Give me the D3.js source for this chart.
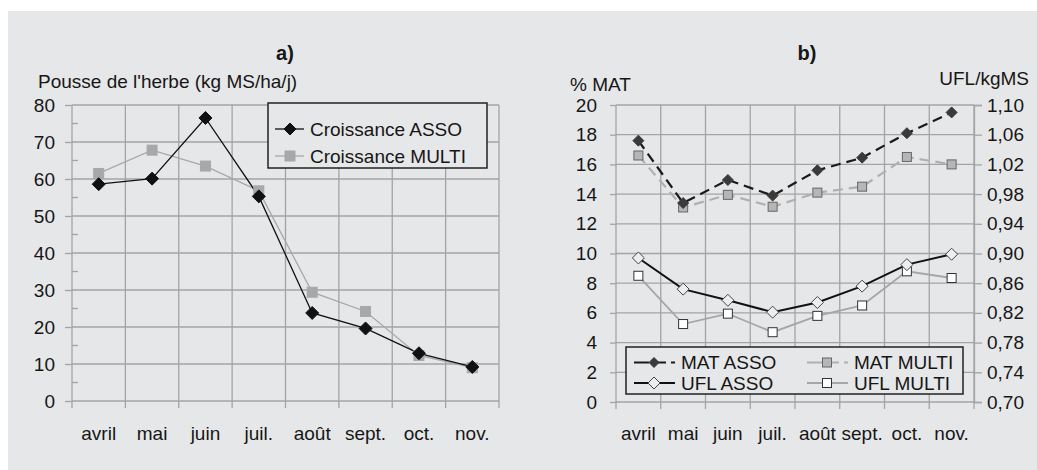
<!DOCTYPE html>
<html>
<head>
<meta charset="utf-8">
<script src="https://cdn.jsdelivr.net/npm/d3@7"></script>
<style>
  body { margin: 0; background: #fff; }
  text { font-family: "Liberation Sans", Arial, sans-serif; fill: #161616; }
</style>
</head>
<body>
<div id="chart"></div>
<script>
const months = ["avril", "mai", "juin", "juil.", "août", "sept.", "oct.", "nov."];

// a) pousse de l'herbe
const croissAsso = [58.6, 60.1, 76.5, 55.3, 23.8, 19.6, 12.9, 9.2];
const croissMulti = [61.5, 67.8, 63.5, 56.8, 29.4, 24.2, 12.3, 9.0];
const ticksA = [0, 10, 20, 30, 40, 50, 60, 70, 80];

// b) MAT (left axis) and UFL (right axis)
const matAsso = [17.6, 13.4, 14.95, 13.9, 15.6, 16.45, 18.1, 19.5];
const matMulti = [16.6, 13.1, 13.95, 13.15, 14.1, 14.5, 16.5, 16.0];
const uflAsso = [0.894, 0.852, 0.837, 0.821, 0.834, 0.856, 0.885, 0.899];
const uflMulti = [0.870, 0.805, 0.819, 0.794, 0.816, 0.830, 0.876, 0.867];
const ticksMat = [0, 2, 4, 6, 8, 10, 12, 14, 16, 18, 20];
const ticksUfl = [0.70, 0.74, 0.78, 0.82, 0.86, 0.90, 0.94, 0.98, 1.02, 1.06, 1.10];

const W = 1037, H = 470;
const PANEL = "#e6e7e9";
const GRID = "#a4a4a4";
const FONT = 19;

const svg = d3.select("#chart").append("svg").attr("width", W).attr("height", H);
svg.append("rect").attr("x", 8).attr("y", 11).attr("width", W - 8).attr("height", H - 11).attr("fill", PANEL);

const comma = v => d3.format(".2f")(v).replace(".", ",");

function diamond(g, x, y, r, fill, stroke) {
  g.append("path")
    .attr("d", `M${x},${y - r}L${x + r},${y}L${x},${y + r}L${x - r},${y}Z`)
    .attr("fill", fill).attr("stroke", stroke).attr("stroke-width", 1);
}
function square(g, x, y, s, fill, stroke) {
  g.append("rect").attr("x", x - s / 2).attr("y", y - s / 2).attr("width", s).attr("height", s)
    .attr("fill", fill).attr("stroke", stroke).attr("stroke-width", 1);
}

// grid + left axis + month labels
function frame(g, x, y, ticks, left, right, top, bottom, tickLen, pad) {
  // horizontal gridlines
  g.append("g").selectAll("line").data(ticks).join("line")
    .attr("x1", left).attr("x2", right)
    .attr("y1", d => y(d)).attr("y2", d => y(d))
    .attr("stroke", GRID).attr("stroke-width", 1.3);
  // vertical gridlines at band edges, running past the x axis as ticks
  const edges = months.map(m => x(m) + x.bandwidth());
  edges.unshift(left);
  g.append("g").selectAll("line").data(edges).join("line")
    .attr("x1", d => d).attr("x2", d => d)
    .attr("y1", top).attr("y2", bottom + 7)
    .attr("stroke", GRID).attr("stroke-width", 1.3);
  const ax = g.append("g").attr("transform", `translate(${left},0)`)
    .call(d3.axisLeft(y).tickValues(ticks).tickFormat(d => d).tickSize(tickLen).tickPadding(pad));
  ax.select(".domain").remove();
  ax.selectAll(".tick line").attr("stroke", GRID).attr("stroke-width", 1.3);
  ax.selectAll(".tick text").attr("font-size", FONT).attr("font-family", null).attr("fill", "#161616");
  g.append("g").selectAll("text").data(months).join("text")
    .attr("x", d => x(d) + x.bandwidth() / 2).attr("y", 440)
    .attr("text-anchor", "middle").attr("font-size", FONT).text(d => d);
}

function series(g, x, y, vals, color, width, dash) {
  g.append("path").datum(vals)
    .attr("d", d3.line().x((d, i) => x(months[i]) + x.bandwidth() / 2).y(d => y(d)))
    .attr("fill", "none").attr("stroke", color).attr("stroke-width", width)
    .attr("stroke-dasharray", dash || null);
}

// ---------- chart a ----------
const ga = svg.append("g");
const xa = d3.scaleBand().domain(months).range([72, 499]);
const ya = d3.scaleLinear().domain([0, 80]).range([401, 105]);
frame(ga, xa, ya, ticksA, 72, 499, 105, 401, 7, 10);

// minor ticks every 5
ga.append("g").selectAll("line").data(d3.range(5, 80, 10)).join("line")
  .attr("x1", 72).attr("x2", 78).attr("y1", d => ya(d)).attr("y2", d => ya(d))
  .attr("stroke", GRID).attr("stroke-width", 1.3);

ga.append("text").attr("x", 285).attr("y", 60).attr("text-anchor", "middle")
  .attr("font-size", 20).attr("font-weight", "bold").text("a)");
ga.append("text").attr("x", 38).attr("y", 88).attr("font-size", FONT).text("Pousse de l'herbe (kg MS/ha/j)");

series(ga, xa, ya, croissMulti, "#a8a8a8", 1.3);
series(ga, xa, ya, croissAsso, "#111", 1.3);
croissMulti.forEach((v, i) => square(ga, xa(months[i]) + xa.bandwidth() / 2, ya(v), 10, "#a8a8a8", "#a8a8a8"));
croissAsso.forEach((v, i) => diamond(ga, xa(months[i]) + xa.bandwidth() / 2, ya(v), 6.5, "#111", "#111"));

// legend a
const la = ga.append("g");
la.append("rect").attr("x", 268).attr("y", 103).attr("width", 219).attr("height", 65)
  .attr("fill", PANEL).attr("stroke", "#222").attr("stroke-width", 1.5);
[["Croissance ASSO", "#111", 129], ["Croissance MULTI", "#a8a8a8", 156]].forEach(([name, c, yy], i) => {
  la.append("line").attr("x1", 275).attr("x2", 304).attr("y1", yy).attr("y2", yy).attr("stroke", c).attr("stroke-width", 1.3);
  if (i === 0) diamond(la, 290, yy, 6, c, c); else square(la, 290, yy, 10, c, c);
  la.append("text").attr("x", 310).attr("y", yy).attr("dy", "0.35em").attr("font-size", FONT).text(name);
});

// ---------- chart b ----------
const gb = svg.append("g");
const xb = d3.scaleBand().domain(months).range([616, 974]);
const yl = d3.scaleLinear().domain([0, 20]).range([402, 105]);
const yr = d3.scaleLinear().domain([0.70, 1.10]).range([402, 105]);
frame(gb, xb, yl, ticksMat, 616, 974, 105, 402, 6, 13);

// right axis
const axr = gb.append("g").attr("transform", "translate(974,0)")
  .call(d3.axisRight(yr).tickValues(ticksUfl).tickFormat(comma).tickSize(8).tickPadding(5));
axr.select(".domain").attr("stroke", GRID).attr("stroke-width", 1.3);
axr.selectAll(".tick line").attr("stroke", GRID).attr("stroke-width", 1.3);
axr.selectAll(".tick text").attr("font-size", FONT).attr("font-family", null).attr("fill", "#161616");

gb.append("text").attr("x", 807).attr("y", 60).attr("text-anchor", "middle")
  .attr("font-size", 20).attr("font-weight", "bold").text("b)");
gb.append("text").attr("x", 570).attr("y", 91).attr("font-size", FONT).text("% MAT");
gb.append("text").attr("x", 1029).attr("y", 85).attr("text-anchor", "end").attr("font-size", FONT).text("UFL/kgMS");

const cx = i => xb(months[i]) + xb.bandwidth() / 2;
series(gb, xb, yr, uflMulti, "#a6a6a6", 1.8);
series(gb, xb, yr, uflAsso, "#111", 2);
series(gb, xb, yl, matMulti, "#b0b0b0", 2.2, "10,6");
series(gb, xb, yl, matAsso, "#1a1a1a", 2.2, "10,6");
matMulti.forEach((v, i) => square(gb, cx(i), yl(v), 9, "#b6b6b6", "#666"));
matAsso.forEach((v, i) => diamond(gb, cx(i), yl(v), 5.5, "#3a3a3a", "#3a3a3a"));
uflMulti.forEach((v, i) => square(gb, cx(i), yr(v), 9, "#fff", "#333"));
uflAsso.forEach((v, i) => diamond(gb, cx(i), yr(v), 6, "#eee", "#444"));

// legend b
const lb = gb.append("g");
lb.append("rect").attr("x", 626).attr("y", 347).attr("width", 337).attr("height", 47)
  .attr("fill", PANEL).attr("stroke", "#222").attr("stroke-width", 1.5);
const legB = [
  { name: "MAT ASSO", x: 634, y: 362.5, c: "#1a1a1a", dash: "15,8,9,5,2,0", mk: "d", fill: "#3a3a3a", st: "#3a3a3a" },
  { name: "MAT MULTI", x: 807, y: 362.5, c: "#b0b0b0", dash: "15,8,9,5,2,0", mk: "s", fill: "#b6b6b6", st: "#666" },
  { name: "UFL ASSO", x: 634, y: 383, c: "#111", dash: null, mk: "d", fill: "#eee", st: "#444" },
  { name: "UFL MULTI", x: 807, y: 383, c: "#a6a6a6", dash: null, mk: "s", fill: "#fff", st: "#333" }
];
legB.forEach(d => {
  lb.append("line").attr("x1", d.x).attr("x2", d.x + 41).attr("y1", d.y).attr("y2", d.y)
    .attr("stroke", d.c).attr("stroke-width", 2).attr("stroke-dasharray", d.dash);
  if (d.mk === "d") diamond(lb, d.x + 20, d.y, d.dash ? 5 : 6, d.fill, d.st);
  else square(lb, d.x + 20, d.y, 9, d.fill, d.st);
  lb.append("text").attr("x", d.x + 47).attr("y", d.y).attr("dy", "0.35em").attr("font-size", FONT).text(d.name);
});
</script>
</body>
</html>
